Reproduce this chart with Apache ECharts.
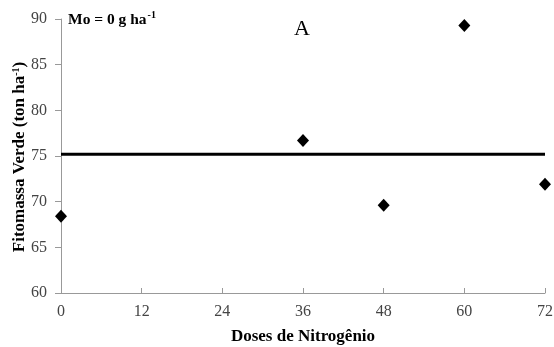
<!DOCTYPE html>
<html>
<head>
<meta charset="utf-8">
<script src="https://cdn.jsdelivr.net/npm/echarts@6/dist/echarts.min.js"></script>
<style>
  html, body { margin: 0; padding: 0; background: #fff; }
  #chart { width: 554px; height: 347px; }
</style>
</head>
<body>
<div id="chart"></div>
<script>
// Nitrogen doses (x) and green biomass observations (y)
const doses = [0, 36, 48, 60, 72];
const biomass = [68.4, 76.7, 69.6, 89.3, 71.9];
// Mean line across the dose range
const meanX = [0, 72];
const meanY = [75.2, 75.2];
const xTicks = [0, 12, 24, 36, 48, 60, 72];
const yTicks = [60, 65, 70, 75, 80, 85, 90];

const serif = '"Liberation Serif", "DejaVu Serif", serif';
const chart = echarts.init(document.getElementById('chart'));

chart.setOption({
  animation: false,
  backgroundColor: '#fff',
  grid: { left: 61, right: 9, top: 19, bottom: 54, containLabel: false, outerBoundsMode: 'none' },
  title: {
    text: 'A',
    left: 289, top: 13,
    textStyle: { fontFamily: serif, fontSize: 22, fontWeight: 'normal', color: '#000' }
  },
  graphic: [
    {
      type: 'text',
      left: 68, top: 10,
      style: {
        text: '{b|Mo = 0 g ha}{s|-1}',
        rich: {
          b: { fontFamily: serif, fontSize: 15.5, fontWeight: 'bold', fill: '#000', verticalAlign: 'bottom', lineHeight: 18 },
          s: { fontFamily: serif, fontSize: 10, fontWeight: 'bold', fill: '#000', verticalAlign: 'top', lineHeight: 18, padding: [0, 0, 6, 1] }
        }
      }
    },
    {
      // vertical y-axis title
      type: 'text',
      x: 20, y: 157,
      rotation: Math.PI / 2,
      style: {
        text: '{t|Fitomassa Verde (ton ha}{s|-1}{t|)}',
        align: 'center',
        verticalAlign: 'middle',
        rich: {
          t: { fontFamily: serif, fontSize: 17, fontWeight: 'bold', fill: '#000', lineHeight: 18 },
          s: { fontFamily: serif, fontSize: 10, fontWeight: 'bold', fill: '#000', verticalAlign: 'top', lineHeight: 18 }
        }
      }
    }
  ],
  xAxis: {
    type: 'value',
    min: xTicks[0], max: xTicks[xTicks.length - 1], interval: 12,
    name: 'Doses de Nitrogênio',
    nameLocation: 'middle', nameGap: 35,
    nameTextStyle: { fontFamily: serif, fontSize: 17, fontWeight: 'bold', color: '#000' },
    axisLine: { lineStyle: { color: '#999', width: 1 } },
    axisTick: { show: true, length: 5, inside: true, lineStyle: { color: '#999' } },
    axisLabel: { fontFamily: serif, fontSize: 16, color: '#444', margin: 11 },
    splitLine: { show: false }
  },
  yAxis: {
    type: 'value',
    min: yTicks[0], max: yTicks[yTicks.length - 1], interval: 5,
    axisLine: { show: true, lineStyle: { color: '#999', width: 1 } },
    axisTick: { show: true, length: 6, lineStyle: { color: '#999' } },
    axisLabel: { fontFamily: serif, fontSize: 16, color: '#444', margin: 14 },
    splitLine: { show: false }
  },
  series: [
    {
      type: 'line',
      data: meanX.map((x, i) => [x, meanY[i]]),
      showSymbol: false,
      lineStyle: { color: '#000', width: 3 },
      z: 2
    },
    {
      type: 'scatter',
      data: doses.map((x, i) => [x, biomass[i]]),
      symbol: 'diamond',
      symbolSize: [12, 13],
      itemStyle: { color: '#000', opacity: 1 },
      z: 3,
      clip: false
    }
  ]
});
</script>
</body>
</html>
